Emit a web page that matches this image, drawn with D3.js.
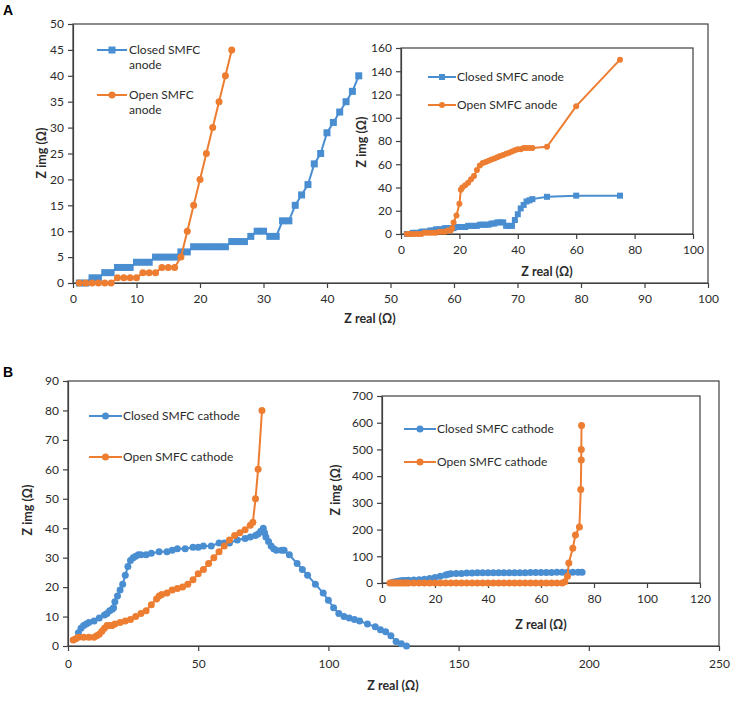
<!DOCTYPE html>
<html><head><meta charset="utf-8">
<script src="https://cdn.jsdelivr.net/npm/d3@7"></script>
<style>body{margin:0;background:#fff}</style>
</head><body><svg id="c" width="736" height="701"></svg>
<script>
// ---------- DATA ----------
// Panel A main: [Z real, Z img]
const aMainClosed = [[1,0],[2,0],[3,1],[4,1],[5,2],[6,2],[7,3],[8,3],[9,3],[10,4],[11,4],[12,4],[13,5],[14,5],[15,5],[16,5],[17,6],[18,6],[19,7],[20,7],[21,7],[22,7],[23,7],[24,7],[25,8],[26,8],[27,8],[28,9],[29,10],[30,10],[31,9],[32,9],[33,12],[34,12],[35,15],[36,17],[37,19],[38,23],[39,25],[40,29],[41,31],[42,33],[43,35],[44,37],[45,40]];
const aMainOpen = [[1,0],[2,0],[3,0],[4,0],[5,0],[6,0],[7,1],[8,1],[9,1],[10,1],[11,2],[12,2],[13,2],[14,3],[15,3],[16,3],[17,5],[18,10],[19,15],[20,20],[21,25],[22,30],[23,35],[24,40],[25,45]];
// Panel A inset
const aInsetClosed = [[2,0],[3,0],[4,1],[5,1],[6,1],[7,2],[8,2],[9,2],[10,3],[11,3],[12,4],[13,4],[14,4],[15,5],[16,5],[17,5],[18,5],[19,6],[20,6],[21,6],[22,6],[23,7],[24,7],[25,7],[26,7],[27,8],[28,8],[29,8],[30,8],[31,9],[32,9],[33,10],[34,10],[35,10],[36,7],[37,7],[38,7],[39,12],[40,17],[41,22],[42,25],[43,28],[44,29],[45,30],[50,32],[60,33],[75,33]];
const aInsetOpen = [[2,0],[3,0],[4,0],[5,0],[6,0],[7,0],[8,1],[9,1],[10,1],[11,1],[12,1],[13,2],[14,2],[15,2],[16,3],[17,3],[17.5,5],[18,10],[19,16],[20,26],[20.5,38],[21,40],[22,42],[23,44],[24,47],[25,50],[26,55],[27,59],[28,61],[29,62],[30,63],[31,64],[32,65],[33,66],[34,67],[35,68],[36,69],[37,70],[38,71],[39,72],[40,73],[41,73],[42,74],[43,74],[44,74],[45,74],[50,75],[60,110],[75,150]];
// Panel B main
const bMainClosed = [[4,4.5],[5,6],[6,7],[7,7.5],[8,8],[10,8.5],[12,9.5],[14,10.5],[15,11],[16,12],[17,12.5],[17.5,13],[18,15],[19,17],[20,19],[21,21],[22,24],[23,27],[24,29],[25,30],[26,30.5],[27,31],[28,31],[30,31],[32,31.5],[35,32],[38,32],[40,32.5],[42,33],[45,33],[48,33.5],[50,33.5],[52,34],[55,34],[58,35],[60,35],[62,35],[65,36],[68,36.5],[70,37],[72,37.5],[73,38],[74,39],[75,40],[75.5,38.5],[76,37],[77,35.5],[78,34],[79,33],[80,32.5],[82,32.5],[83,32.5],[85,31],[88,28],[90,26],[92,24],[95,21],[98,18],[100,15.5],[102,13],[104,11],[106,10],[108,9.5],[110,9],[112,8.5],[115,7.5],[118,6.5],[120,5.5],[122,4.8],[124,3.5],[126,1.5],[128,0.8],[130,0]];
const bMainOpen = [[2,2],[3,2.5],[4,3],[6,3],[8,3],[10,3],[11,3.5],[12,4],[13,5],[14,6],[15,7],[16,7],[17,7],[18,7.5],[20,8],[22,8.5],[24,9],[26,10],[28,11],[30,12],[32,14],[34,16],[35,17],[36,17.5],[38,18],[40,19],[42,19.5],[44,20],[46,21],[48,22.5],[50,24.5],[52,26],[54,28],[56,30],[58,32],[60,34],[62,36],[64,37.5],[66,38.5],[68,39.5],[70,41],[71,42],[72,50],[73,60],[74.5,80]];
// Panel B inset
const bInsetClosed = [[4,3],[5,5],[6,7],[7,8],[8,9],[9,9],[10,10],[12,11],[14,12],[16,14],[18,17],[20,21],[22,25],[24,30],[25,33],[26,35],[28,36],[30,36],[32,37],[34,37],[36,38],[38,38],[40,38],[42,38],[44,38],[46,38],[48,38],[50,38],[52,38],[54,38],[56,39],[58,39],[60,39],[62,39],[64,39],[66,40],[68,40],[70,40],[72,40],[74,40],[75.5,40]];
const bInsetOpen = [[3,0],[4,0],[5,0],[6,0],[7,0],[8,0],[9,0],[10,0],[12,0],[14,0],[16,0],[18,0],[20,0],[22,0],[24,0],[26,0],[28,0],[30,0],[32,0],[34,0],[36,0],[38,0],[40,0],[42,0],[44,0],[46,0],[48,0],[50,0],[52,0],[54,0],[56,0],[58,0],[60,0],[62,0],[64,0],[66,0],[68,0],[69,5],[70,25],[70.5,75],[72,130],[73,180],[74.5,210],[75,350],[75.2,460],[75.2,500],[75.3,590]];
// Tick values
const aMainXTicks = [0,10,20,30,40,50,60,70,80,90,100];
const aMainYTicks = [0,5,10,15,20,25,30,35,40,45,50];
const aInsetXTicks = [0,20,40,60,80,100];
const aInsetYTicks = [0,20,40,60,80,100,120,140,160];
const bMainXTicks = [0,50,100,150,200,250];
const bMainYTicks = [0,10,20,30,40,50,60,70,80,90];
const bInsetXTicks = [0,20,40,60,80,100,120];
const bInsetYTicks = [0,100,200,300,400,500,600,700];
// Labels
const xTitle = "Z real (Ω)";
const yTitle = "Z img (Ω)";
const aLegend = [["Closed SMFC","anode"],["Open SMFC","anode"]];
const aInsetLegend = ["Closed SMFC anode","Open SMFC anode"];
const bLegend = ["Closed SMFC cathode","Open SMFC cathode"];

// ---------- DRAW ----------
const blue = "#4A8ED2", orange = "#ED7D31", axisCol = "#404040", textCol = "#2b2b2b";
const font = "Lato, 'Open Sans', sans-serif";
const svg = d3.select("#c");

function panel(o){
  const x = d3.scaleLinear().domain(o.xd).range([o.x0,o.x1]);
  const y = d3.scaleLinear().domain(o.yd).range([o.y0,o.y1]);
  const g = svg.append("g");
  g.append("rect").attr("x",o.x0).attr("y",o.y1).attr("width",o.x1-o.x0).attr("height",o.y0-o.y1)
      .attr("fill","none").attr("stroke",axisCol).attr("stroke-width",1.2);
  const ax = g.append("g").attr("transform",`translate(0,${o.y0})`)
     .call(d3.axisBottom(x).tickValues(o.xt).tickSize(5).tickPadding(o.xpad||6).tickSizeOuter(0));
  const ay = g.append("g").attr("transform",`translate(${o.x0},0)`)
     .call(d3.axisLeft(y).tickValues(o.yt).tickSize(5).tickPadding(o.ypad||4).tickSizeOuter(0));
  [ax,ay].forEach(a=>{
    a.selectAll("path,line").attr("stroke",axisCol).attr("stroke-width",1.2);
    a.selectAll("text").attr("fill",textCol).style("font-family",font).style("font-size",o.tfs+"px");
  });
  const line = d3.line().x(d=>x(d[0])).y(d=>y(d[1]));
  o.series.forEach(s=>{
    g.append("path").datum(s.data).attr("d",line).attr("fill","none").attr("stroke",s.color).attr("stroke-width",2);
    if(s.shape==="square"){
      g.selectAll(null).data(s.data).enter().append("rect")
       .attr("x",d=>x(d[0])-s.size/2).attr("y",d=>y(d[1])-s.size/2).attr("width",s.size).attr("height",s.size).attr("fill",s.color);
    } else {
      g.selectAll(null).data(s.data).enter().append("circle")
       .attr("cx",d=>x(d[0])).attr("cy",d=>y(d[1])).attr("r",s.size/2).attr("fill",s.color);
    }
  });
  o.legend.forEach((L,i)=>{
    const s = o.series[i];
    g.append("line").attr("x1",L.lx0).attr("x2",L.lx1).attr("y1",L.y).attr("y2",L.y).attr("stroke",s.color).attr("stroke-width",2);
    const mx=(L.lx0+L.lx1)/2;
    if(s.shape==="square") g.append("rect").attr("x",mx-s.size/2).attr("y",L.y-s.size/2).attr("width",s.size).attr("height",s.size).attr("fill",s.color);
    else g.append("circle").attr("cx",mx).attr("cy",L.y).attr("r",s.size/2).attr("fill",s.color);
    const t = g.append("text").attr("x",L.tx).attr("y",L.y).attr("fill",textCol).style("font-family",font).style("font-size",o.lfs+"px");
    L.lines.forEach((ln,j)=>t.append("tspan").attr("x",L.tx).attr("dy", j===0?"0.35em":"1.2em").text(ln));
  });
  g.append("text").attr("x",o.xtp[0]).attr("y",o.xtp[1]).attr("text-anchor","middle").attr("dy","0.35em")
    .style("font-family",font).style("font-size",o.afs+"px").style("font-weight","bold").attr("fill",textCol).text(xTitle);
  g.append("text").attr("transform",`translate(${o.ytp[0]},${o.ytp[1]}) rotate(-90)`).attr("text-anchor","middle").attr("dy","0.35em")
    .style("font-family",font).style("font-size",o.afs+"px").style("font-weight","bold").attr("fill",textCol).text(yTitle);
}

// Panel A main
panel({xd:[0,100],yd:[0,50],x0:73,x1:708,y0:283,y1:24,xt:aMainXTicks,yt:aMainYTicks,tfs:12,lfs:12,afs:12.5,xpad:6,
  series:[{data:aMainClosed,color:blue,shape:"square",size:7},{data:aMainOpen,color:orange,shape:"circle",size:7}],
  legend:[{lx0:97,lx1:127,y:50,tx:129,lines:aLegend[0]},{lx0:97,lx1:127,y:95,tx:129,lines:aLegend[1]}],
  xtp:[370,319],ytp:[42,153]});
// Panel A inset
panel({xd:[0,100],yd:[0,160],x0:401,x1:693,y0:234,y1:48,xt:aInsetXTicks,yt:aInsetYTicks,tfs:12,lfs:12,afs:12.5,xpad:6,
  series:[{data:aInsetClosed,color:blue,shape:"square",size:6},{data:aInsetOpen,color:orange,shape:"circle",size:6}],
  legend:[{lx0:428,lx1:456,y:77,tx:457,lines:[aInsetLegend[0]]},{lx0:428,lx1:456,y:105,tx:457,lines:[aInsetLegend[1]]}],
  xtp:[547,272],ytp:[362,142]});
// Panel B main
panel({xd:[0,250],yd:[0,90],x0:68,x1:719,y0:646,y1:381,xt:bMainXTicks,yt:bMainYTicks,tfs:12,lfs:12,afs:12.5,xpad:8,
  series:[{data:bMainClosed,color:blue,shape:"circle",size:7},{data:bMainOpen,color:orange,shape:"circle",size:7}],
  legend:[{lx0:89,lx1:122,y:416,tx:123,lines:[bLegend[0]]},{lx0:89,lx1:122,y:457,tx:123,lines:[bLegend[1]]}],
  xtp:[393,686],ytp:[28,510]});
// Panel B inset
panel({xd:[0,120],yd:[0,700],x0:382,x1:700,y0:583,y1:396,xt:bInsetXTicks,yt:bInsetYTicks,tfs:12,lfs:12,afs:12.5,xpad:6,
  series:[{data:bInsetClosed,color:blue,shape:"circle",size:7},{data:bInsetOpen,color:orange,shape:"circle",size:7}],
  legend:[{lx0:404,lx1:436,y:429,tx:437,lines:[bLegend[0]]},{lx0:404,lx1:436,y:462,tx:437,lines:[bLegend[1]]}],
  xtp:[541,625],ytp:[336,490]});

svg.append("text").attr("x",3).attr("y",15).text("A").style("font-family","Arial, 'Liberation Sans', sans-serif").style("font-weight","bold").style("font-size","14px");
svg.append("text").attr("x",3).attr("y",377).text("B").style("font-family","Arial, 'Liberation Sans', sans-serif").style("font-weight","bold").style("font-size","14px");
</script></body></html>
